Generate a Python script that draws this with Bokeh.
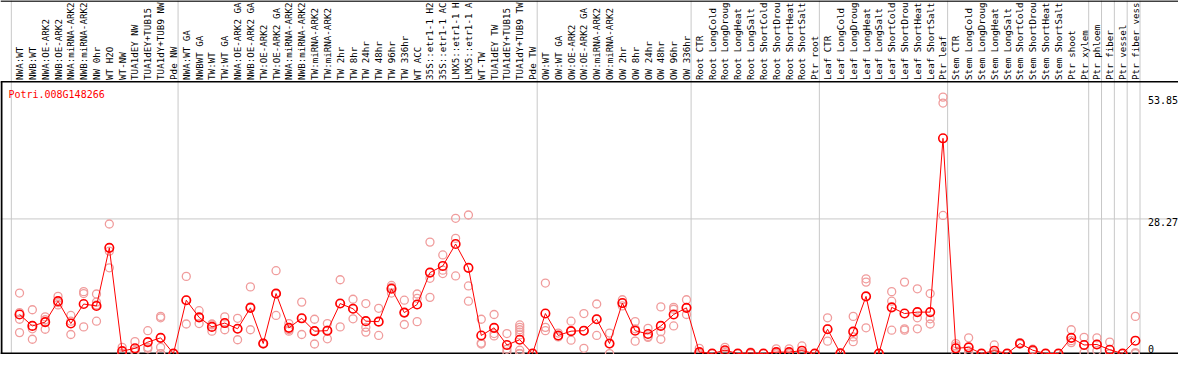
import math
from bokeh.plotting import figure
from bokeh.models import Range1d, Span, ColumnDataSource
from bokeh.core.properties import value
from bokeh.embed import file_html
from bokeh.resources import INLINE

# ---------------- data ----------------
gene_id = "Potri.008G148266"

samples = [
    "NWA:WT", "NWB:WT", "NWA:OE-ARK2", "NWB:OE-ARK2", "NWA:miRNA-ARK2", "NWB:miRNA-ARK2",
    "NW 0hr", "WT H2O", "WT-NW", "TUA1dEY NW", "TUA1dEY+TUB15", "TUA1dY+TUB9 NW", "Pde NW",
    "NWA:WT GA", "NWBWT GA", "TW:WT", "TW:WT GA", "NWA:OE-ARK2 GA", "NWB:OE-ARK2 GA",
    "TW:OE-ARK2", "TW:OE-ARK2 GA", "NWA:miRNA-ARK2", "NWB:miRNA-ARK2", "TW:miRNA-ARK2",
    "TW:miRNA-ARK2", "TW 2hr", "TW 8hr", "TW 24hr", "TW 48hr", "TW 96hr", "TW 336hr",
    "WT ACC", "35S::etr1-1 H2", "35S::etr1-1 AC", "LMX5::etr1-1 H", "LMX5::etr1-1 A",
    "WT-TW", "TUA1dEY TW", "TUA1dEY+TUB15", "TUA1dY+TUB9 TW", "Pde TW",
    "OW:WT", "OW:WT GA", "OW:OE-ARK2", "OW:OE-ARK2 GA", "OW:miRNA-ARK2", "OW:miRNA-ARK2",
    "OW 2hr", "OW 8hr", "OW 24hr", "OW 48hr", "OW 96hr", "OW 336hr",
    "Root CTR", "Root LongCold", "Root LongDroug", "Root LongHeat", "Root LongSalt",
    "Root ShortCold", "Root ShortDrou", "Root ShortHeat", "Root ShortSalt", "Ptr root",
    "Leaf CTR", "Leaf LongCold", "Leaf LongDroug", "Leaf LongHeat", "Leaf LongSalt",
    "Leaf ShortCold", "Leaf ShortDrou", "Leaf ShortHeat", "Leaf ShortSalt", "Ptr leaf",
    "Stem CTR", "Stem LongCold", "Stem LongDroug", "Stem LongHeat", "Stem LongSalt",
    "Stem ShortCold", "Stem ShortDrou", "Stem ShortHeat", "Stem ShortSalt", "Ptr shoot",
    "Ptr xylem", "Ptr phloem", "Ptr fiber", "Ptr vessel", "Ptr fiber vess",
]

means = [
    8.2, 5.8, 6.6, 11.0, 6.3, 10.4, 10.0, 22.2, 0.5, 1.1, 2.4, 3.3, 0.0,
    11.2, 7.6, 5.6, 6.4, 5.2, 9.6, 2.1, 12.6, 5.4, 7.4, 4.7, 4.8, 10.5, 9.4, 6.8,
    6.7, 13.6, 8.6, 10.3, 17.0, 18.4, 23.0, 18.0, 3.8, 5.4, 1.8, 2.9, 0.0,
    8.4, 3.8, 4.7, 4.8, 7.2, 2.1, 10.6, 4.8, 4.1, 5.8, 8.2, 9.6,
    0.3, 0.0, 0.7, 0.0, 0.1, 0.0, 0.3, 0.3, 0.6, 0.0,
    5.1, 0.05, 4.6, 12.0, 0.0, 9.7, 8.4, 8.7, 8.7, 45.2,
    1.1, 1.3, 0.0, 0.6, 0.0, 2.1, 0.7, 0.0, 0.0, 3.3,
    1.8, 1.9, 0.8, 0.0, 2.7,
]

replicates = [
    [12.7, 8.6, 7.2, 4.4], [9.2, 5.2, 3.0], [7.7, 7.1, 5.1], [12.0, 10.7, 10.2],
    [8.0, 6.8, 4.0], [13.0, 12.6, 5.6], [12.5, 10.8, 10.2, 6.8], [27.2, 21.5, 18.0],
    [1.3, 0.1, 0.0], [2.5, 0.6, 0.3], [4.8, 1.3, 1.0], [7.8, 7.5, 1.3, 0.0, 0.0],
    [0.0, 0.0, 0.0],
    [16.2, 11.2, 6.2], [9.0, 7.6, 6.3], [6.2, 6.0, 4.7], [7.7, 6.4, 5.0], [7.4, 5.2, 2.9],
    [14.0, 9.8, 5.0], [2.2, 2.1, 2.0], [17.4, 12.5, 8.0], [6.3, 5.0, 4.7], [10.8, 7.4, 4.0],
    [7.2, 4.8, 2.0], [6.3, 4.9, 3.1], [15.5, 10.5, 5.6], [11.4, 9.4, 7.3], [10.5, 5.5, 4.5],
    [9.5, 6.7, 3.8], [14.3, 13.9, 12.7], [11.2, 8.6, 6.1], [12.5, 11.6, 6.7],
    [23.4, 15.8, 11.8], [20.7, 17.5, 16.8], [28.4, 24.2, 16.3], [29.1, 14.2, 11.0],
    [7.2, 2.2, 2.0], [8.2, 4.2, 3.7], [4.2, 0.9, 0.3],
    [6.0, 5.5, 5.0, 4.5, 3.9, 0.7, 0.0, 0.0, 0.0], [0.0, 0.0, 0.0],
    [14.8, 5.5, 4.8], [4.3, 3.6, 3.5], [6.8, 4.7, 2.8], [8.4, 4.8, 1.1], [10.4, 7.2, 3.8],
    [4.3, 2.0, 0.0], [11.3, 10.6, 10.0], [6.7, 5.2, 2.6], [5.3, 3.6, 3.4], [9.8, 4.6, 3.0],
    [9.7, 9.3, 5.8], [11.3, 9.6, 8.2],
    [1.1, 0.0, 0.0], [0.0, 0.0, 0.0], [1.3, 0.5, 0.2], [0.0, 0.0, 0.0], [0.3, 0.0, 0.0],
    [0.0, 0.0, 0.0], [1.0, 0.0, 0.0], [1.0, 0.0, 0.0], [1.6, 0.2, 0.0], [0.0, 0.0, 0.0],
    [7.5, 5.2, 2.6], [0.1, 0.0, 0.0], [7.8, 3.5, 2.5], [15.7, 15.0, 5.4], [0.0, 0.0, 0.0],
    [13.0, 11.0, 4.9], [15.0, 5.2, 4.9], [13.6, 7.5, 5.2], [12.6, 7.3, 6.2],
    [53.85, 52.6, 29.0],
    [2.1, 1.6, 0.0], [3.3, 0.6, 0.1], [0.0, 0.0, 0.0], [1.8, 0.0, 0.0], [0.0, 0.0, 0.0],
    [2.3, 2.1, 2.0], [0.9, 0.6, 0.5], [0.0, 0.0, 0.0], [0.0, 0.0, 0.0], [5.0, 2.7, 2.3],
    [3.4, 1.8, 0.2], [3.3, 1.9, 0.6], [2.4, 0.0, 0.0], [0.0, 0.0, 0.0], [7.8, 0.2, 0.0],
]

tick_values = [28.27, 53.85]
tick_labels = ["28.27", "53.85"]
zero_label = "0"
group_starts = [0, 13, 41, 53, 63, 73, 84, 85, 86, 87, 88]

# ---------------- layout (reference pixel geometry) ----------------
REF_W, REF_H = 1194, 370
W, H = 1178, 354
X0, DX = 19.3, 13.0     # px of first column centre, column pitch
Y0, KY = 369.0, 4.977   # px of value 0, px per unit
HEADER_Y = 85.0

FONT = value("DejaVu Sans Mono")
RED = "#ff0000"
PINK = "#f09c9c"
GRID = "#c8c8c8"

p = figure(
    width=W, height=H, output_backend="svg", toolbar_location=None,
    x_range=Range1d((0 - X0) / DX, (REF_W - X0) / DX),
    y_range=Range1d((Y0 - REF_H) / KY, Y0 / KY),
    x_axis_location=None, y_axis_location=None,
    min_border=0, outline_line_color=None,
    background_fill_color="white", border_fill_color="white",
)
p.grid.visible = False
p.extra_x_ranges = {"px": Range1d(0, REF_W)}
p.extra_y_ranges = {"px": Range1d(REF_H, 0)}

# grid lines
for g in group_starts:
    p.add_layout(Span(location=g - 0.64, dimension="height", line_color=GRID,
                      line_width=1, level="underlay"))
p.add_layout(Span(location=tick_values[0], dimension="width", line_color=GRID,
                  line_width=1, level="underlay"))

# frame lines
p.add_layout(Span(location=HEADER_Y, dimension="width", y_range_name="px",
                  line_color="black", line_width=1.5, level="underlay"))
p.add_layout(Span(location=0.5, dimension="width", y_range_name="px",
                  line_color="black", line_width=1.5, level="underlay"))
p.add_layout(Span(location=0, dimension="width",
                  line_color="black", line_width=2, level="underlay"))
p.segment(x0=[1], y0=[HEADER_Y], x1=[1], y1=[REF_H], x_range_name="px",
          y_range_name="px", line_color="black", line_width=2)

# sample labels (vertical)
idx = list(range(len(samples)))
p.text(x=idx, y=[HEADER_Y - 2] * len(samples), text=samples, y_range_name="px",
       angle=math.pi / 2, text_font=FONT, text_font_size="9.2px",
       text_align="left", text_baseline="middle", text_color="black")

# gene id
p.text(x=[8], y=[92], text=[gene_id], x_range_name="px", y_range_name="px",
       text_font=FONT, text_font_size="10px", text_color=RED,
       text_align="left", text_baseline="top")

# value labels on the right
p.text(x=[1163] * len(tick_values), y=tick_values, text=tick_labels, x_range_name="px",
       text_font=FONT, text_font_size="10px", text_color="black",
       text_align="left", text_baseline="top", y_offset=-1)
p.text(x=[1163], y=[0], text=[zero_label], x_range_name="px",
       text_font=FONT, text_font_size="10px", text_color="black",
       text_align="left", text_baseline="bottom", y_offset=-1)

# replicates
rx, ry = [], []
for i, reps in enumerate(replicates):
    for v in reps:
        rx.append(i)
        ry.append(v)
rep_src = ColumnDataSource(dict(x=rx, y=ry))
p.scatter("x", "y", source=rep_src, marker="circle", size=8, fill_color=None,
          line_color=PINK, line_width=1.3)

# mean line + markers
mean_src = ColumnDataSource(dict(x=idx, y=means))
p.line("x", "y", source=mean_src, line_color=RED, line_width=1)
p.scatter("x", "y", source=mean_src, marker="circle", size=8.5, fill_color=None,
          line_color=RED, line_width=1.6)

open("out.html", "w").write(file_html(p, INLINE))
